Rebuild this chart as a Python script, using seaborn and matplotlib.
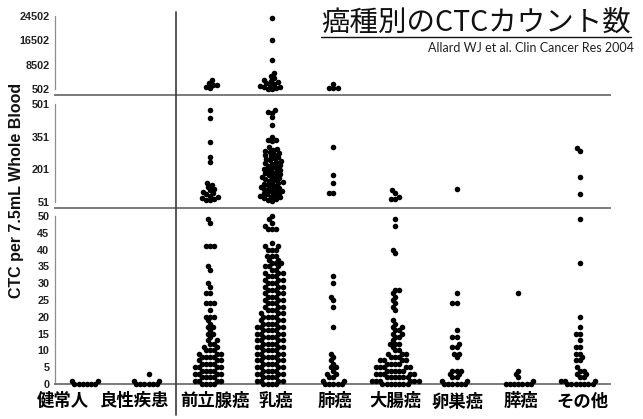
import matplotlib
matplotlib.use("Agg")
import matplotlib.pyplot as plt
import pandas as pd
import seaborn as sns
from matplotlib.lines import Line2D
from matplotlib.transforms import ScaledTranslation

categories = ["健常人", "良性疾患", "前立腺癌", "乳癌", "肺癌", "大腸癌", "卵巣癌", "膵癌", "その他"]

# ---- CTC counts, upper range (502 - 24502) ----
prostate_high = [3460, 2480, 1820, 1820, 1160, 830]
breast_high = [23846, 16611, 10036, 5600, 4800, 4100, 3500, 3100, 2800, 2400,
               2100, 1800, 1500, 1200, 1000, 800, 650, 600]
lung_high = [2150, 830, 830, 830]

# ---- CTC counts, middle range (51 - 501) ----
prostate_mid = [473, 437, 326, 258, 235, 138, 128, 120, 112, 105, 98, 92, 86,
                80, 75, 70, 66, 62, 58]
breast_mid = [473, 465, 460, 441, 405, 349, 336, 336, 330, 303, 296, 292, 284,
              280, 276, 271, 265, 262, 258, 251, 247, 243, 238, 233, 229, 226,
              220, 216, 212, 207, 203, 198, 195, 191, 186, 182, 178, 175, 171,
              166, 162, 160, 155, 151, 148, 144, 140, 137, 133, 129, 126, 122,
              118, 115, 112, 108, 104, 101, 97, 93, 90, 86, 82, 79, 75, 72, 68,
              64, 60, 57]
lung_mid = [303, 175, 138, 92, 92]
colon_mid = [106, 92, 74, 65, 65]
ovary_mid = [111]
other_mid = [299, 285, 166, 88]

# ---- CTC counts, lower range (0 - 50) ----
healthy_low = [0, 0, 0, 0, 0, 0, 1, 1]
benign_low = [0, 0, 0, 0, 0, 0, 1, 1, 3]
prostate_low = [49, 48, 41, 41, 41, 35, 34, 30, 29, 27, 27, 24, 24, 24, 22, 20,
                20, 20, 19, 18, 17, 17, 16, 15, 15, 14, 13, 13, 12, 12, 11, 11,
                10, 10, 10, 9, 9, 9, 8, 8, 8, 8, 7, 7, 7, 6, 6, 6, 6, 5, 5, 5,
                5, 4, 4, 4, 4, 3, 3, 3, 3, 2, 2, 2, 2, 1, 1, 1, 1, 0, 0, 0, 0]
breast_low = [50, 49, 48, 47, 46, 46, 46, 42, 41, 41, 40, 40, 40, 38, 38, 38,
              37, 37, 36, 36, 36, 35, 35, 35, 34, 34, 33, 33, 33, 32, 32, 32,
              31, 31, 31, 30, 30, 30, 29, 29, 29, 28, 28, 28, 27, 27, 27, 26,
              26, 26, 25, 25, 25, 24, 24, 24, 23, 23, 23, 22, 22, 22, 21, 21,
              21, 20, 20, 20, 20, 19, 19, 19, 18, 18, 18, 18, 17, 17, 17, 17,
              16, 16, 16, 16, 15, 15, 15, 15, 14, 14, 14, 14, 13, 13, 13, 13,
              12, 12, 12, 12, 11, 11, 11, 11, 10, 10, 10, 10, 9, 9, 9, 9, 8, 8,
              8, 8, 7, 7, 7, 7, 6, 6, 6, 6, 5, 5, 5, 5, 4, 4, 4, 4, 3, 3, 3, 3,
              2, 2, 2, 2, 1, 1, 1, 1, 0, 0, 0, 0]
lung_low = [32, 30, 26, 25, 23, 17, 9, 8, 7, 6, 5, 5, 4, 3, 3, 2, 2, 1, 1, 0,
            0, 0, 0, 0]
colon_low = [49, 47, 40, 39, 28, 28, 27, 26, 25, 24, 23, 22, 19, 18, 17, 17, 16,
             16, 15, 15, 14, 14, 13, 12, 12, 12, 11, 10, 10, 9, 9, 9, 8, 8, 8,
             7, 7, 7, 7, 6, 6, 6, 6, 5, 5, 5, 5, 5, 4, 4, 4, 4, 4, 3, 3, 3, 3,
             3, 2, 2, 2, 2, 2, 2, 1, 1, 1, 1, 1, 1, 0, 0, 0, 0, 0, 0, 0]
ovary_low = [27, 24, 24, 16, 14, 14, 12, 11, 11, 9, 9, 8, 4, 4, 4, 3, 3, 2, 2,
             1, 1, 0, 0, 0, 0, 0, 0]
pancreas_low = [27, 4, 3, 2, 1, 0, 0, 0, 0, 0, 0, 0]
other_low = [49, 36, 20, 17, 15, 15, 13, 11, 11, 9, 9, 8, 7, 7, 5, 4, 4, 3, 3,
             2, 2, 1, 1, 1, 0, 0, 0, 0, 0, 0, 0]

high_ticks = [502, 8502, 16502, 24502]
mid_ticks = [51, 201, 351, 501]
low_ticks = [0, 5, 10, 15, 20, 25, 30, 35, 40, 45, 50]

title_text = "癌種別のCTCカウント数"
source_text = "Allard WJ et al. Clin Cancer Res 2004"
ylabel_text = "CTC per 7.5mL Whole Blood"

high_band = {"前立腺癌": prostate_high, "乳癌": breast_high, "肺癌": lung_high}
mid_band = {"前立腺癌": prostate_mid, "乳癌": breast_mid, "肺癌": lung_mid,
            "大腸癌": colon_mid, "卵巣癌": ovary_mid, "その他": other_mid}
low_band = {"健常人": healthy_low, "良性疾患": benign_low, "前立腺癌": prostate_low,
            "乳癌": breast_low, "肺癌": lung_low, "大腸癌": colon_low,
            "卵巣癌": ovary_low, "膵癌": pancreas_low, "その他": other_low}


def band_frame(band):
    rows = [(cat, v) for cat, vals in band.items() for v in vals]
    return pd.DataFrame(rows, columns=["group", "ctc"])


sns.set_style("white")
plt.rcParams["font.family"] = ["Liberation Sans", "Noto Sans CJK JP", "DejaVu Sans"]

W_PX, H_PX = 643, 419
fig = plt.figure(figsize=(W_PX / 100, H_PX / 100), dpi=100)

LEFT, WIDTH = 55 / W_PX, 555 / W_PX
COLLIDE = 2.9      # marker diameter (pt) used while packing the swarm
DOT = 4.0          # marker diameter (pt) that is finally drawn
SEP_COLOR = "#7a7a7a"

panels = [
    (high_band, 1 - 95 / H_PX, 83 / H_PX, (-1470.6, 25817), high_ticks),
    (mid_band, 1 - 208 / H_PX, 113 / H_PX, (23.4, 542.3), mid_ticks),
    (low_band, 1 - 384 / H_PX, 176 / H_PX, (0, 52.38), low_ticks),
]

axes = []
for band, bottom, height, ylim, ticks in panels:
    ax = fig.add_axes([LEFT, bottom, WIDTH, height])
    sns.swarmplot(data=band_frame(band), x="group", y="ctc", order=categories,
                  color="black", size=COLLIDE, linewidth=0, ax=ax)
    ax.set_xlim(-0.52, 8.49)
    ax.set_ylim(*ylim)
    ax.set_yticks(ticks)
    ax.set_yticklabels([str(t) for t in ticks], fontsize=7.8,
                       fontweight="bold", color="#222222")
    ax.set_xlabel("")
    ax.set_ylabel("")
    ax.set_facecolor("none")
    for side in ("top", "right"):
        ax.spines[side].set_visible(False)
    ax.spines["left"].set_bounds(ticks[0], ticks[-1])
    ax.spines["left"].set_color("#8c8c8c")
    ax.spines["left"].set_linewidth(0.9)
    ax.spines["bottom"].set_color(SEP_COLOR)
    ax.spines["bottom"].set_linewidth(1.4)
    ax.tick_params(axis="y", length=2.5, width=0.8, color="#8c8c8c", pad=1.5)
    axes.append(ax)

for ax in axes[:-1]:
    ax.tick_params(axis="x", bottom=False, labelbottom=False)

low_ax = axes[-1]
low_ax.set_xticks(range(len(categories)))
low_ax.set_xticklabels(categories, fontsize=12.5, fontweight="bold",
                       family=["Noto Sans CJK JP", "DejaVu Sans"])
low_ax.tick_params(axis="x", length=0, pad=6, colors="black")
label_shift = [-24, -14, 5, 4, 2, 0, 1, 3, 3]
for lab, dx in zip(low_ax.get_xticklabels(), label_shift):
    lab.set_transform(lab.get_transform() +
                      ScaledTranslation(dx / 100, 0, fig.dpi_scale_trans))

# divider between control groups and cancer groups
fig.add_artist(Line2D([176 / W_PX, 176 / W_PX], [1 - 12 / H_PX, 1 - 415 / H_PX],
                      transform=fig.transFigure, color="#3a3a3a", linewidth=1.2))

fig.text(17 / W_PX, 1 - 190 / H_PX, ylabel_text, rotation=90, ha="center",
         va="center", fontsize=11.5, fontweight="bold", color="#111111")

title = fig.text(631 / W_PX, 1 - 23 / H_PX, title_text, ha="right", va="center",
                 fontsize=20.5, family=["Noto Sans CJK JP", "DejaVu Sans"],
                 color="#111111")
fig.text(634 / W_PX, 1 - 48 / H_PX, source_text, ha="right", va="center",
         fontsize=9, family=["Lato", "DejaVu Sans"], color="#222222")

# pack the swarms, then freeze the packed positions and enlarge the dots
fig.canvas.draw()
for ax in axes:
    for coll in ax.collections:
        coll.__dict__.pop("draw", None)
        coll.set_sizes([DOT ** 2])
        coll.set_clip_on(False)
        coll.set_zorder(5)

renderer = fig.canvas.get_renderer()
bb = title.get_window_extent(renderer)
fig.add_artist(Line2D([bb.x0 / W_PX, bb.x1 / W_PX], [(bb.y0 + 1) / H_PX] * 2,
                      transform=fig.transFigure, color="#111111", linewidth=1.0))

fig.savefig("out.png", dpi=100)
